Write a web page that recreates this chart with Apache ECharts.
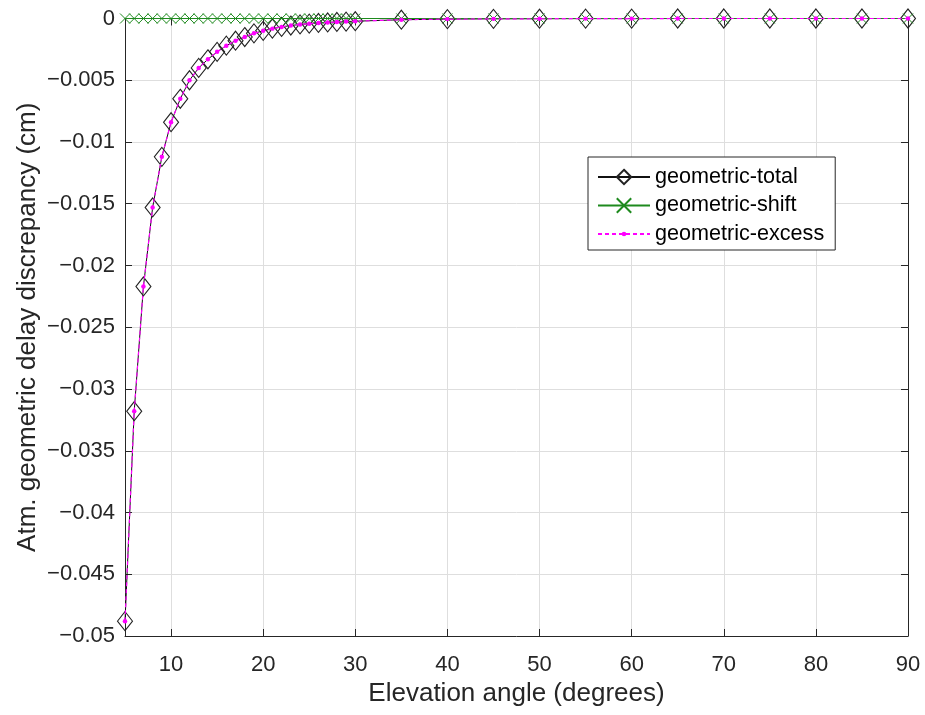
<!DOCTYPE html>
<html>
<head>
<meta charset="utf-8">
<script src="https://cdn.jsdelivr.net/npm/echarts@6/dist/echarts.min.js"></script>
<style>
html,body{margin:0;padding:0;background:#fff;}
#chart{width:925px;height:715px;}
</style>
</head>
<body>
<div id="chart"></div>
<script>
// Elevation angles (degrees)
var elevation = [5,6,7,8,9,10,11,12,13,14,15,16,17,18,19,20,21,22,23,24,25,26,27,28,29,30,35,40,45,50,55,60,65,70,75,80,85,90];
// geometric-excess (cm)
var excess = [-0.0488,-0.0318,-0.0217,-0.0153,-0.0112,-0.0084,-0.0065,-0.0050,-0.0040,-0.0033,-0.0027,-0.0022,-0.0018,-0.0015,-0.0012,-0.0010,-0.00082,-0.00068,-0.00057,-0.00048,-0.00042,-0.00036,-0.00032,-0.00028,-0.00025,-0.00022,-0.00010,-0.00005,-0.00003,-0.00002,-0.00001,-0.00001,0,0,0,0,0,0];
// geometric-shift (cm)
var shift = [0,0,0,0,0,0,0,0,0,0,0,0,0,0,0,0,0,0,0,0,0,0,0,0,0,0,0,0,0,0,0,0,0,0,0,0,0,0];
// geometric-total (cm)
var total = [-0.0488,-0.0318,-0.0217,-0.0153,-0.0112,-0.0084,-0.0065,-0.0050,-0.0040,-0.0033,-0.0027,-0.0022,-0.0018,-0.0015,-0.0012,-0.0010,-0.00082,-0.00068,-0.00057,-0.00048,-0.00042,-0.00036,-0.00032,-0.00028,-0.00025,-0.00022,-0.00010,-0.00005,-0.00003,-0.00002,-0.00001,-0.00001,0,0,0,0,0,0];
var xTicks = [10,20,30,40,50,60,70,80,90];
var seriesNames = ['geometric-total','geometric-shift','geometric-excess'];

function pairs(xs, ys){ return xs.map(function(x,i){ return [x, ys[i]]; }); }

var FONT = '"Liberation Sans", Arial, Helvetica, sans-serif';
var AX = '#262626';
var GRIDC = '#dedede';
var GREEN = '#1e8a1e';
var MAG = '#ff00ff';
// small dot inside a padded box so that it stays small in the legend too
var DOT = 'path://M0,0M10,10M3.4,5a1.6,1.6 0 1,0 3.2,0a1.6,1.6 0 1,0 -3.2,0Z';

var chart = echarts.init(document.getElementById('chart'), null, {renderer:'canvas'});
chart.setOption({
  animation: false,
  backgroundColor: '#ffffff',
  textStyle: {fontFamily: FONT},
  grid: {left:125, right:17, top:18.5, bottom:79, containLabel:false},
  legend: {
    orient: 'vertical',
    left: 588, top: 157,
    padding: [9, 11, 5, 9],
    itemWidth: 52, itemHeight: 18,
    itemGap: 6.5,
    backgroundColor: '#ffffff',
    borderColor: AX, borderWidth: 1,
    borderRadius: 0,
    textStyle: {fontFamily: FONT, fontSize: 21.6, color: '#000', lineHeight: 22},
    data: seriesNames
  },
  xAxis: [{
    type: 'value', min: 5, max: 90, position: 'bottom',
    axisLine: {show:true, onZero:false, lineStyle:{color:AX, width:1}},
    axisTick: {show:true, inside:true, length:7, customValues: xTicks, lineStyle:{color:AX}},
    axisLabel: {show:true, customValues: xTicks, fontSize:22, color:AX, margin:18, fontFamily: FONT},
    splitLine: {show:true, lineStyle:{color:GRIDC, width:1}},
    name: 'Elevation angle (degrees)', nameLocation:'middle', nameGap:45, nameMoveOverlap:false,
    nameTextStyle: {fontSize:26, color:AX, fontFamily: FONT}
  },{
    type: 'value', min: 5, max: 90, position: 'top',
    axisLine: {show:true, onZero:false, lineStyle:{color:AX, width:1}},
    axisTick: {show:true, inside:true, length:7, customValues: xTicks, lineStyle:{color:AX}},
    axisLabel: {show:false},
    splitLine: {show:false}
  }],
  yAxis: [{
    type: 'value', min: -0.05, max: 0, interval: 0.005, position: 'left',
    axisLine: {show:true, onZero:false, lineStyle:{color:AX, width:1}},
    axisTick: {show:true, inside:true, length:7, lineStyle:{color:AX}},
    axisLabel: {show:true, fontSize:22, color:AX, margin:10, fontFamily: FONT,
      formatter: function(v){ var s = String(+v.toFixed(4)); return s.replace('-', '\u2212'); }},
    splitLine: {show:true, lineStyle:{color:GRIDC, width:1}},
    name: 'Atm. geometric delay discrepancy (cm)', nameLocation:'middle', nameGap:84, nameMoveOverlap:false,
    nameTextStyle: {fontSize:26, color:AX, fontFamily: FONT}
  },{
    type: 'value', min: -0.05, max: 0, interval: 0.005, position: 'right',
    axisLine: {show:true, onZero:false, lineStyle:{color:AX, width:1}},
    axisTick: {show:true, inside:true, length:7, lineStyle:{color:AX}},
    axisLabel: {show:false},
    splitLine: {show:false}
  }],
  series: [{
    name: seriesNames[0], type: 'line', xAxisIndex:0, yAxisIndex:0,
    data: pairs(elevation, total),
    symbol: 'diamond', symbolSize: [15, 19], showAllSymbol: true,
    clip: false,
    lineStyle: {color:'#111', width:1},
    itemStyle: {color:'rgba(0,0,0,0)', borderColor:'#222', borderWidth:1.1},
    z: 2
  },{
    name: seriesNames[1], type: 'line', xAxisIndex:0, yAxisIndex:0,
    data: pairs(elevation, shift),
    symbol: 'path://M0,0L10,10M10,0L0,10', symbolSize: 10, showAllSymbol: true,
    clip: false,
    lineStyle: {color:GREEN, width:1.2},
    itemStyle: {color:'rgba(0,0,0,0)', borderColor:GREEN, borderWidth:1},
    z: 3
  },{
    name: seriesNames[2], type: 'line', xAxisIndex:0, yAxisIndex:0,
    data: pairs(elevation, excess),
    symbol: DOT, symbolSize: 14, showAllSymbol: true,
    clip: false,
    lineStyle: {color:MAG, width:1.2, type:[4,3]},
    itemStyle: {color:MAG, borderWidth:0},
    z: 4
  }]
});
</script>
</body>
</html>
